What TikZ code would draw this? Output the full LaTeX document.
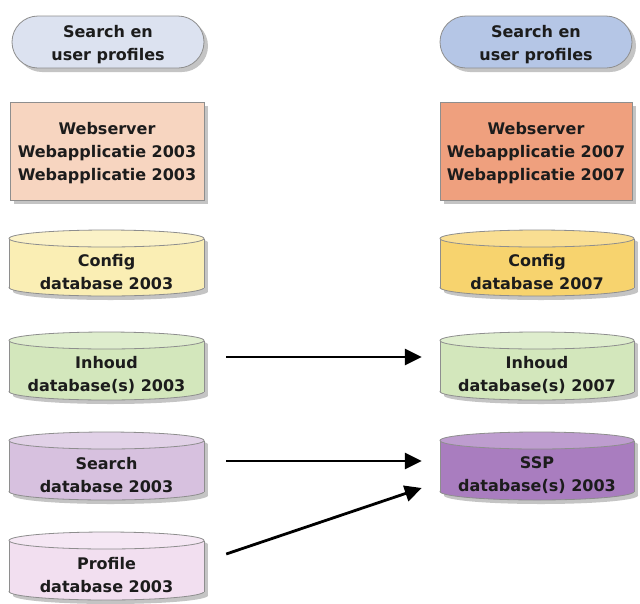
\documentclass[tikz,border=0pt]{standalone}
\usepackage{fontspec}
\setmainfont{DejaVu Sans}
\usetikzlibrary{arrows.meta}
\definecolor{txtc}{HTML}{1C1C1C}
\definecolor{edgec}{HTML}{8E8E8E}
\definecolor{shadc}{HTML}{C4C4C4}
\definecolor{pillL}{HTML}{DCE2F0}
\definecolor{pillR}{HTML}{B5C6E6}
\definecolor{webL}{HTML}{F7D5C0}
\definecolor{webR}{HTML}{EFA07E}
\definecolor{cfgL}{HTML}{FAEEB4}
\definecolor{cfgR}{HTML}{F7D36E}
\definecolor{inhC}{HTML}{D3E7BC}
\definecolor{srchL}{HTML}{D7C1DF}
\definecolor{sspR}{HTML}{A97DBF}
\definecolor{profL}{HTML}{F2DFF0}
\tikzset{
  lbl/.style={align=center, text=txtc, font=\fontsize{16}{23}\selectfont\bfseries, inner sep=0pt},
  edge/.style={draw=edgec, line width=0.8pt},
  shad/.style={fill=shadc},
  arr/.style={line width=2.8pt, -{Triangle[length=17pt,width=16pt]}},
}
\newcommand\dbcyl[7]{%
  \pgfmathsetmacro\cxc{(#2+#3)/2}%
  \pgfmathsetmacro\crx{(#3-#2)/2}%
  \pgfmathsetmacro\cwd{#3-#2}%
  \pgfmathsetmacro\cyt{#4+8.5}%
  \pgfmathsetmacro\cyb{#5-8.5}%
  \pgfmathsetmacro\cym{(#4+#5)/2+9}%
  \pgfmathsetmacro\cht{#5-#4-17}%
  \begin{scope}[shift={(4,4)}]
    \fill[shad] (\cxc,\cyb) ellipse[x radius=\crx pt, y radius=8.5pt];
    \fill[shad] (#2,\cyt) rectangle (#3,\cyb);
    \fill[shad] (\cxc,\cyt) ellipse[x radius=\crx pt, y radius=8.5pt];
  \end{scope}
  \filldraw[fill=#6, edge] (\cxc,\cyb) ellipse[x radius=\crx pt, y radius=8.5pt];
  \fill[#6] (#2,\cyt) rectangle (#3,\cyb);
  \draw[edge] (#2,\cyt) -- (#2,\cyb) (#3,\cyt) -- (#3,\cyb);
  \filldraw[fill=#6!75!white, edge] (\cxc,\cyt) ellipse[x radius=\crx pt, y radius=8.5pt];
  \node[lbl, minimum width=\cwd pt, minimum height=\cht pt] (#1) at (\cxc,\cym) {#7};
}
\begin{document}
\begin{tikzpicture}[x=1pt,y=-1pt]
\useasboundingbox (0,0) rectangle (640,603);
\fill[white] (0,0) rectangle (640,603);
% pills
\fill[shad, rounded corners=26pt] (16,20) rectangle (208,72);
\filldraw[fill=pillL, edge, rounded corners=26pt] (12,16) rectangle (204,68);
\node[lbl] (pillLn) at (108,45) {Search en\\user profiles};
\fill[shad, rounded corners=26pt] (444,20) rectangle (636,72);
\filldraw[fill=pillR, edge, rounded corners=26pt] (440,16) rectangle (632,68);
\node[lbl] (pillRn) at (536,45) {Search en\\user profiles};
% web boxes
\fill[shad] (14,106) rectangle (208,204);
\filldraw[fill=webL, edge] (10,102) rectangle (204,200);
\node[lbl] (webLn) at (107,153) {Webserver\\Webapplicatie 2003\\Webapplicatie 2003};
\fill[shad] (444,106) rectangle (636,204);
\filldraw[fill=webR, edge] (440,102) rectangle (632,200);
\node[lbl] (webRn) at (536,153) {Webserver\\Webapplicatie 2007\\Webapplicatie 2007};
% cylinders
\dbcyl{cfgLn}{9}{204}{230}{296}{cfgL}{Config\\database 2003}
\dbcyl{cfgRn}{440}{634}{230}{296}{cfgR}{Config\\database 2007}
\dbcyl{inhLn}{9}{204}{332}{400}{inhC}{Inhoud\\database(s) 2003}
\dbcyl{inhRn}{440}{634}{332}{400}{inhC}{Inhoud\\database(s) 2007}
\dbcyl{srchLn}{9}{204}{432}{500}{srchL}{Search\\database 2003}
\dbcyl{sspRn}{440}{634}{432}{500}{sspR}{SSP\\database(s) 2003}
\dbcyl{profLn}{9}{204}{532}{600}{profL}{Profile\\database 2003}
% arrows
\draw[arr] ([shift={(22,-18)}]inhLn.east) -- ([shift={(-18,-18)}]inhRn.west);
\draw[arr] ([shift={(22,-14)}]srchLn.east) -- ([shift={(-18,-14)}]sspRn.west);
\draw[arr] ([shift={(22,-21)}]profLn.east) -- ([shift={(-18,13)}]sspRn.west);
\end{tikzpicture}
\end{document}
